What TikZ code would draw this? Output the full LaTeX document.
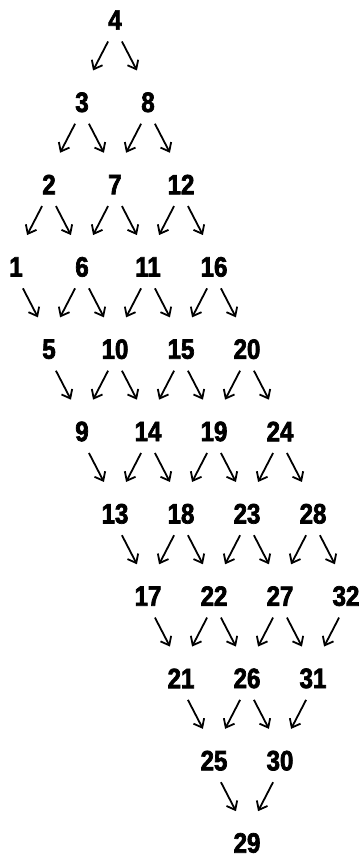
\documentclass[tikz,border=0pt]{standalone}
\usepackage{fontspec}
\newfontfamily\numfont{Liberation Sans Bold}[FakeStretch=0.86,FakeBold=2.5]
\usetikzlibrary{arrows.meta,calc}
\begin{document}
\begin{tikzpicture}[x=16.5pt,y=-82.3pt,
  num/.style={font=\numfont\fontsize{28}{28}\selectfont, inner sep=0pt},
  arr/.style={line width=1.8pt,-{Straight Barb[length=7.5pt,width=12pt]}}]
\useasboundingbox (-16pt,20pt) rectangle (348pt,-837pt);
\foreach \n/\c/\r in {4/6/0,
  3/4/1, 8/8/1,
  2/2/2, 7/6/2, 12/10/2,
  1/0/3, 6/4/3, 11/8/3, 16/12/3,
  5/2/4, 10/6/4, 15/10/4, 20/14/4,
  9/4/5, 14/8/5, 19/12/5, 24/16/5,
  13/6/6, 18/10/6, 23/14/6, 28/18/6,
  17/8/7, 22/12/7, 27/16/7, 32/20/7,
  21/10/8, 26/14/8, 31/18/8,
  25/12/9, 30/16/9,
  29/14/10}
  \node[num] (n\n) at (\c,\r) {\n};
\foreach \a/\b/\dx in {4/3/-7.5, 4/8/7.5,
  3/2/-7.5, 3/7/7.5, 8/7/-7.5, 8/12/7.5,
  2/1/-7.5, 2/6/7.5, 7/6/-7.5, 7/11/7.5, 12/11/-7.5, 12/16/7.5,
  1/5/7.5, 6/5/-7.5, 6/10/7.5, 11/10/-7.5, 11/15/7.5, 16/15/-7.5, 16/20/7.5,
  5/9/7.5, 10/9/-7.5, 10/14/7.5, 15/14/-7.5, 15/19/7.5, 20/19/-7.5, 20/24/7.5,
  9/13/7.5, 14/13/-7.5, 14/18/7.5, 19/18/-7.5, 19/23/7.5, 24/23/-7.5, 24/28/7.5,
  13/17/7.5, 18/17/-7.5, 18/22/7.5, 23/22/-7.5, 23/27/7.5, 28/27/-7.5, 28/32/7.5,
  17/21/7.5, 22/21/-7.5, 22/26/7.5, 27/26/-7.5, 27/31/7.5, 32/31/-7.5,
  21/25/7.5, 26/25/-7.5, 26/30/7.5, 31/30/-7.5,
  25/29/7.5, 30/29/-7.5}
  \draw[arr] ($(n\a)!.437!(n\b) + (0,14.5pt) - (\dx pt,0)$) -- ($(n\a)!.437!(n\b) + (\dx pt,-14.5pt)$);
\end{tikzpicture}
\end{document}
